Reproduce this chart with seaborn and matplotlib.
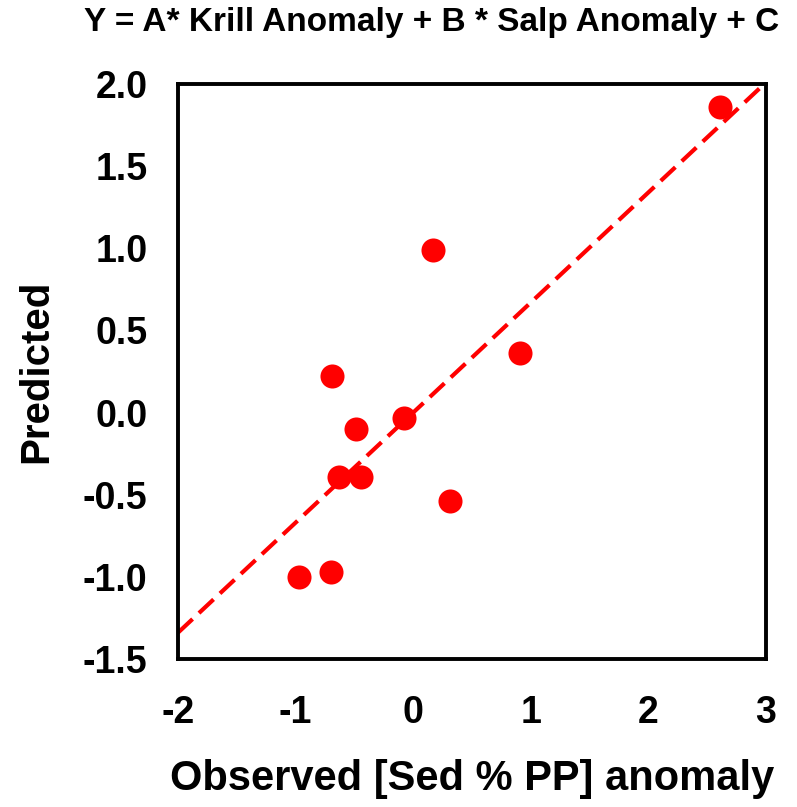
import matplotlib
matplotlib.use("Agg")
import matplotlib.pyplot as plt
import seaborn as sns
import numpy as np
import pandas as pd

# Observed vs. model-predicted anomalies
observed = [2.61, 0.17, 0.91, -0.69, -0.08, -0.49, -0.63, -0.44, 0.31, -0.97, -0.70]
predicted = [1.86, 0.99, 0.36, 0.22, -0.03, -0.10, -0.39, -0.39, -0.54, -1.00, -0.97]

# fitted trend line (slope, intercept)
fit_slope = 0.67
fit_intercept = 0.0

x_ticks = [-2, -1, 0, 1, 2, 3]
y_ticks = [-1.5, -1.0, -0.5, 0.0, 0.5, 1.0, 1.5, 2.0]
y_tick_labels = ["-1.5", "-1.0", "-0.5", "0.0", "0.5", "1.0", "1.5", "2.0"]

title = "Y = A* Krill Anomaly + B * Salp Anomaly + C"
x_label = "Observed [Sed % PP] anomaly"
y_label = "Predicted"

df = pd.DataFrame({"observed": observed, "predicted": predicted})
fit_x = np.array([x_ticks[0], x_ticks[-1]], dtype=float)
fit_df = pd.DataFrame({"x": fit_x, "y": fit_slope * fit_x + fit_intercept})

sns.set_theme(style="white")
plt.rcParams["font.family"] = ["Liberation Sans", "DejaVu Sans"]
plt.rcParams["font.weight"] = "bold"

fig = plt.figure(figsize=(7.97, 8.07), dpi=100)
ax = fig.add_axes([0.2233, 0.1834, 0.7378, 0.7125])

sns.lineplot(data=fit_df, x="x", y="y", ax=ax, color="#ff0000",
             linewidth=3.0, dashes=False, zorder=2)
ax.lines[-1].set_dashes((4.8, 2.1))
sns.scatterplot(data=df, x="observed", y="predicted", ax=ax,
                color="#ff0000", s=300, linewidth=0, zorder=3)

ax.set_xlim(-2, 3)
ax.set_ylim(-1.5, 2.0)
ax.set_xticks(x_ticks)
ax.set_xticklabels([str(t) for t in x_ticks])
ax.set_yticks(y_ticks)
ax.set_yticklabels(y_tick_labels)

for side in ["left", "right", "top", "bottom"]:
    ax.spines[side].set_visible(True)
    ax.spines[side].set_color("black")
    ax.spines[side].set_linewidth(2.8)

ax.tick_params(axis="both", which="major", direction="out", length=5,
               width=1.3, color="black", labelsize=27, labelcolor="black")
ax.tick_params(axis="y", pad=17)
ax.tick_params(axis="x", pad=21)
for lab in ax.get_xticklabels() + ax.get_yticklabels():
    lab.set_fontweight("bold")

ax.set_xlabel(x_label, fontsize=30, fontweight="bold", color="black", labelpad=20)
ax.set_ylabel(y_label, fontsize=29, fontweight="bold", color="black", labelpad=20)

fig.text(0.541, 0.972, title, ha="center", va="center", fontsize=24,
         fontweight="bold", color="black")

fig.savefig("out.png", dpi=100)
